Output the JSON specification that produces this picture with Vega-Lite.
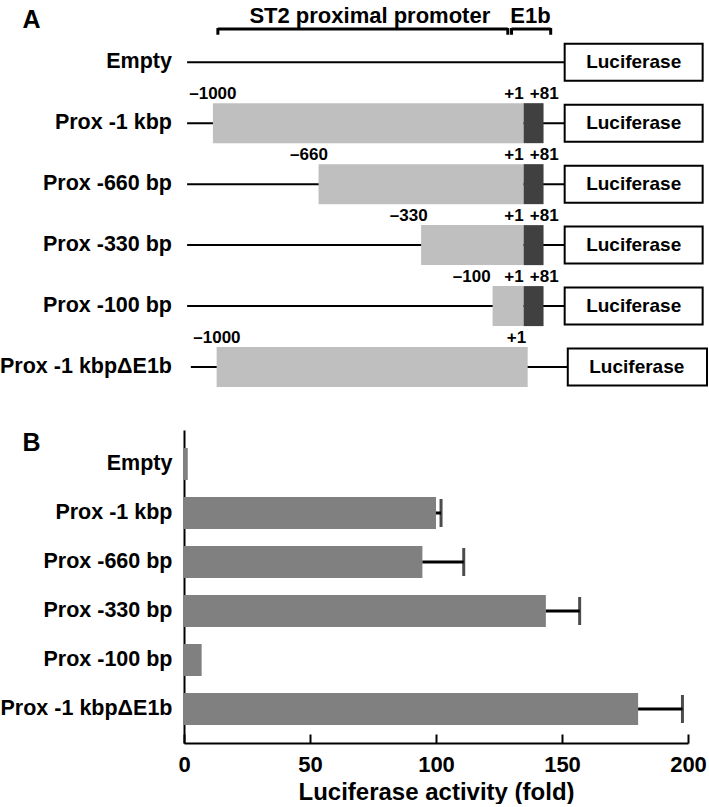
{
  "$schema": "https://vega.github.io/schema/vega-lite/v6.json",
  "padding": 0,
  "spacing": 30,
  "datasets": {
    "rowsA": [
      {"construct": "Empty", "row": 1, "lineStart": -1083, "lucStart": 132, "lucEnd": 576},
      {"construct": "Prox -1 kbp", "row": 2, "lineStart": -1083, "lucStart": 132, "lucEnd": 576},
      {"construct": "Prox -660 bp", "row": 3, "lineStart": -1083, "lucStart": 132, "lucEnd": 576},
      {"construct": "Prox -330 bp", "row": 4, "lineStart": -1083, "lucStart": 132, "lucEnd": 576},
      {"construct": "Prox -100 bp", "row": 5, "lineStart": -1083, "lucStart": 132, "lucEnd": 576},
      {"construct": "Prox -1 kbpΔE1b", "row": 6, "lineStart": -1071, "lucStart": 142, "lucEnd": 590}
    ],
    "segs": [
      {"row": 2, "kind": "promoter", "start": -1000, "end": 0},
      {"row": 2, "kind": "E1b", "start": 0, "end": 64},
      {"row": 3, "kind": "promoter", "start": -660, "end": 0},
      {"row": 3, "kind": "E1b", "start": 0, "end": 64},
      {"row": 4, "kind": "promoter", "start": -330, "end": 0},
      {"row": 4, "kind": "E1b", "start": 0, "end": 64},
      {"row": 5, "kind": "promoter", "start": -100, "end": 0},
      {"row": 5, "kind": "E1b", "start": 0, "end": 64},
      {"row": 6, "kind": "promoter", "start": -988, "end": 13}
    ],
    "ticksA": [
      {"row": 2, "pos": -1000, "text": "–1000"},
      {"row": 2, "pos": -31, "text": "+1"},
      {"row": 2, "pos": 66, "text": "+81"},
      {"row": 3, "pos": -691, "text": "–660"},
      {"row": 3, "pos": -31, "text": "+1"},
      {"row": 3, "pos": 66, "text": "+81"},
      {"row": 4, "pos": -370, "text": "–330"},
      {"row": 4, "pos": -31, "text": "+1"},
      {"row": 4, "pos": 66, "text": "+81"},
      {"row": 5, "pos": -167, "text": "–100"},
      {"row": 5, "pos": -31, "text": "+1"},
      {"row": 5, "pos": 66, "text": "+81"},
      {"row": 6, "pos": -987, "text": "–1000"},
      {"row": 6, "pos": -23, "text": "+1"}
    ],
    "header": [
      {"label": "ST2 proximal promoter", "start": -984, "end": -51, "mid": -495},
      {"label": "E1b", "start": -39, "end": 87, "mid": 22}
    ],
    "activity": [
      {"construct": "Empty", "value": 1.5},
      {"construct": "Prox -1 kbp", "value": 100, "upper": 102},
      {"construct": "Prox -660 bp", "value": 94.6, "upper": 111},
      {"construct": "Prox -330 bp", "value": 143.6, "upper": 157},
      {"construct": "Prox -100 bp", "value": 7},
      {"construct": "Prox -1 kbpΔE1b", "value": 180.2, "upper": 197.8}
    ]
  },
  "vconcat": [
    {
      "width": 523,
      "height": 400,
      "layer": [
        {
          "data": {"name": "rowsA"},
          "mark": {"type": "rule", "color": "black", "strokeWidth": 2},
          "encoding": {
            "x": {"field": "lineStart", "type": "quantitative", "scale": {"domain": [-1093, 590], "nice": false, "zero": false, "padding": 0}, "axis": null},
            "x2": {"field": "lucStart"},
            "y": {"field": "row", "type": "quantitative", "scale": {"domain": [-0.02, 6.54], "reverse": true, "nice": false, "zero": false, "padding": 0},
              "axis": {"title": "A", "titleAngle": 0, "titleX": -162, "titleY": 27, "titleAlign": "left", "titleBaseline": "alphabetic", "titleFontSize": 25, "labels": false, "ticks": false, "domain": false, "grid": false}}
          }
        },
        {
          "data": {"name": "segs"},
          "mark": {"type": "bar", "orient": "horizontal", "size": 40},
          "encoding": {
            "x": {"field": "start", "type": "quantitative", "scale": {"domain": [-1093, 590], "nice": false, "zero": false, "padding": 0}, "axis": null},
            "x2": {"field": "end"},
            "y": {"field": "row", "type": "quantitative", "scale": {"domain": [-0.02, 6.54], "reverse": true, "nice": false, "zero": false, "padding": 0},
              "axis": {"title": "A", "titleAngle": 0, "titleX": -162, "titleY": 27, "titleAlign": "left", "titleBaseline": "alphabetic", "titleFontSize": 25, "labels": false, "ticks": false, "domain": false, "grid": false}},
            "color": {"field": "kind", "type": "nominal", "scale": {"domain": ["promoter", "E1b"], "range": ["#bfbfbf", "#404040"]}, "legend": null}
          }
        },
        {
          "data": {"name": "rowsA"},
          "mark": {"type": "bar", "orient": "horizontal", "size": 37, "fill": "white", "stroke": "black", "strokeWidth": 2},
          "encoding": {
            "x": {"field": "lucStart", "type": "quantitative", "scale": {"domain": [-1093, 590], "nice": false, "zero": false, "padding": 0}, "axis": null},
            "x2": {"field": "lucEnd"},
            "y": {"field": "row", "type": "quantitative", "scale": {"domain": [-0.02, 6.54], "reverse": true, "nice": false, "zero": false, "padding": 0},
              "axis": {"title": "A", "titleAngle": 0, "titleX": -162, "titleY": 27, "titleAlign": "left", "titleBaseline": "alphabetic", "titleFontSize": 25, "labels": false, "ticks": false, "domain": false, "grid": false}}
          }
        },
        {
          "data": {"name": "rowsA"},
          "mark": {"type": "text", "text": "Luciferase", "align": "center", "baseline": "middle", "dx": 69, "fontSize": 19, "fontWeight": "bold"},
          "encoding": {
            "x": {"field": "lucStart", "type": "quantitative", "scale": {"domain": [-1093, 590], "nice": false, "zero": false, "padding": 0}, "axis": null},
            "y": {"field": "row", "type": "quantitative", "scale": {"domain": [-0.02, 6.54], "reverse": true, "nice": false, "zero": false, "padding": 0},
              "axis": {"title": "A", "titleAngle": 0, "titleX": -162, "titleY": 27, "titleAlign": "left", "titleBaseline": "alphabetic", "titleFontSize": 25, "labels": false, "ticks": false, "domain": false, "grid": false}}
          }
        },
        {
          "data": {"name": "rowsA"},
          "mark": {"type": "text", "align": "right", "baseline": "middle", "dx": -12, "fontSize": 21.5, "fontWeight": "bold"},
          "encoding": {
            "x": {"datum": -1093, "type": "quantitative", "scale": {"domain": [-1093, 590], "nice": false, "zero": false, "padding": 0}, "axis": null},
            "y": {"field": "row", "type": "quantitative", "scale": {"domain": [-0.02, 6.54], "reverse": true, "nice": false, "zero": false, "padding": 0},
              "axis": {"title": "A", "titleAngle": 0, "titleX": -162, "titleY": 27, "titleAlign": "left", "titleBaseline": "alphabetic", "titleFontSize": 25, "labels": false, "ticks": false, "domain": false, "grid": false}},
            "text": {"field": "construct"}
          }
        },
        {
          "data": {"name": "ticksA"},
          "mark": {"type": "text", "align": "center", "baseline": "alphabetic", "dy": -24, "fontSize": 17, "fontWeight": "bold"},
          "encoding": {
            "x": {"field": "pos", "type": "quantitative", "scale": {"domain": [-1093, 590], "nice": false, "zero": false, "padding": 0}, "axis": null},
            "y": {"field": "row", "type": "quantitative", "scale": {"domain": [-0.02, 6.54], "reverse": true, "nice": false, "zero": false, "padding": 0},
              "axis": {"title": "A", "titleAngle": 0, "titleX": -162, "titleY": 27, "titleAlign": "left", "titleBaseline": "alphabetic", "titleFontSize": 25, "labels": false, "ticks": false, "domain": false, "grid": false}},
            "text": {"field": "text"}
          }
        },
        {
          "data": {"name": "header"},
          "mark": {"type": "rule", "color": "black", "strokeWidth": 3},
          "encoding": {
            "x": {"field": "start", "type": "quantitative", "scale": {"domain": [-1093, 590], "nice": false, "zero": false, "padding": 0}, "axis": null},
            "x2": {"field": "end"},
            "y": {"datum": 0.456, "type": "quantitative", "scale": {"domain": [-0.02, 6.54], "reverse": true, "nice": false, "zero": false, "padding": 0},
              "axis": {"title": "A", "titleAngle": 0, "titleX": -162, "titleY": 27, "titleAlign": "left", "titleBaseline": "alphabetic", "titleFontSize": 25, "labels": false, "ticks": false, "domain": false, "grid": false}}
          }
        },
        {
          "data": {"name": "header"},
          "mark": {"type": "rule", "color": "black", "strokeWidth": 3},
          "encoding": {
            "x": {"field": "start", "type": "quantitative", "scale": {"domain": [-1093, 590], "nice": false, "zero": false, "padding": 0}, "axis": null},
            "y": {"datum": 0.44, "type": "quantitative", "scale": {"domain": [-0.02, 6.54], "reverse": true, "nice": false, "zero": false, "padding": 0},
              "axis": {"title": "A", "titleAngle": 0, "titleX": -162, "titleY": 27, "titleAlign": "left", "titleBaseline": "alphabetic", "titleFontSize": 25, "labels": false, "ticks": false, "domain": false, "grid": false}},
            "y2": {"datum": 0.55}
          }
        },
        {
          "data": {"name": "header"},
          "mark": {"type": "rule", "color": "black", "strokeWidth": 3},
          "encoding": {
            "x": {"field": "end", "type": "quantitative", "scale": {"domain": [-1093, 590], "nice": false, "zero": false, "padding": 0}, "axis": null},
            "y": {"datum": 0.44, "type": "quantitative", "scale": {"domain": [-0.02, 6.54], "reverse": true, "nice": false, "zero": false, "padding": 0},
              "axis": {"title": "A", "titleAngle": 0, "titleX": -162, "titleY": 27, "titleAlign": "left", "titleBaseline": "alphabetic", "titleFontSize": 25, "labels": false, "ticks": false, "domain": false, "grid": false}},
            "y2": {"datum": 0.55}
          }
        },
        {
          "data": {"name": "header"},
          "mark": {"type": "text", "align": "center", "baseline": "alphabetic", "dy": -6, "fontSize": 22, "fontWeight": "bold"},
          "encoding": {
            "x": {"field": "mid", "type": "quantitative", "scale": {"domain": [-1093, 590], "nice": false, "zero": false, "padding": 0}, "axis": null},
            "y": {"datum": 0.456, "type": "quantitative", "scale": {"domain": [-0.02, 6.54], "reverse": true, "nice": false, "zero": false, "padding": 0},
              "axis": {"title": "A", "titleAngle": 0, "titleX": -162, "titleY": 27, "titleAlign": "left", "titleBaseline": "alphabetic", "titleFontSize": 25, "labels": false, "ticks": false, "domain": false, "grid": false}},
            "text": {"field": "label"}
          }
        }
      ]
    },
    {
      "width": 504,
      "height": 313,
      "data": {"name": "activity"},
      "layer": [
        {
          "mark": {"type": "bar", "color": "#808080"},
          "encoding": {
            "y": {"field": "construct", "type": "nominal", "sort": null, "scale": {"paddingInner": 0.347, "paddingOuter": 0.367},
              "axis": {"title": "B", "titleAngle": 0, "titleX": -162, "titleY": 20, "titleAlign": "left", "titleBaseline": "alphabetic", "titleFontSize": 25,
                "labelFontSize": 21.5, "labelPadding": 12, "ticks": false, "domainWidth": 2, "domainColor": "black"}},
            "x": {"field": "value", "type": "quantitative", "scale": {"domain": [0, 200], "nice": false},
              "axis": {"title": "Luciferase activity (fold)", "values": [0, 50, 100, 150, 200], "labelFlush": false, "labelFontSize": 22, "titleFontSize": 24, "tickSize": -9, "tickWidth": 2, "domainWidth": 2, "labelPadding": 20, "titlePadding": 5}}
          }
        },
        {
          "mark": {"type": "rule", "color": "black", "strokeWidth": 3},
          "encoding": {
            "y": {"field": "construct", "type": "nominal", "sort": null},
            "x": {"field": "value", "type": "quantitative"},
            "x2": {"field": "upper"}
          }
        },
        {
          "mark": {"type": "tick", "orient": "vertical", "color": "black", "size": 28, "thickness": 3},
          "encoding": {
            "y": {"field": "construct", "type": "nominal", "sort": null},
            "x": {"field": "upper", "type": "quantitative"}
          }
        }
      ]
    }
  ],
  "config": {
    "font": "Liberation Sans",
    "view": {"stroke": null},
    "axis": {"labelFont": "Liberation Sans", "titleFont": "Liberation Sans", "labelColor": "black", "titleColor": "black", "domainColor": "black", "tickColor": "black", "grid": false, "labelFontWeight": "bold", "titleFontWeight": "bold"},
    "text": {"font": "Liberation Sans", "fontWeight": "bold", "color": "black"}
  }
}
